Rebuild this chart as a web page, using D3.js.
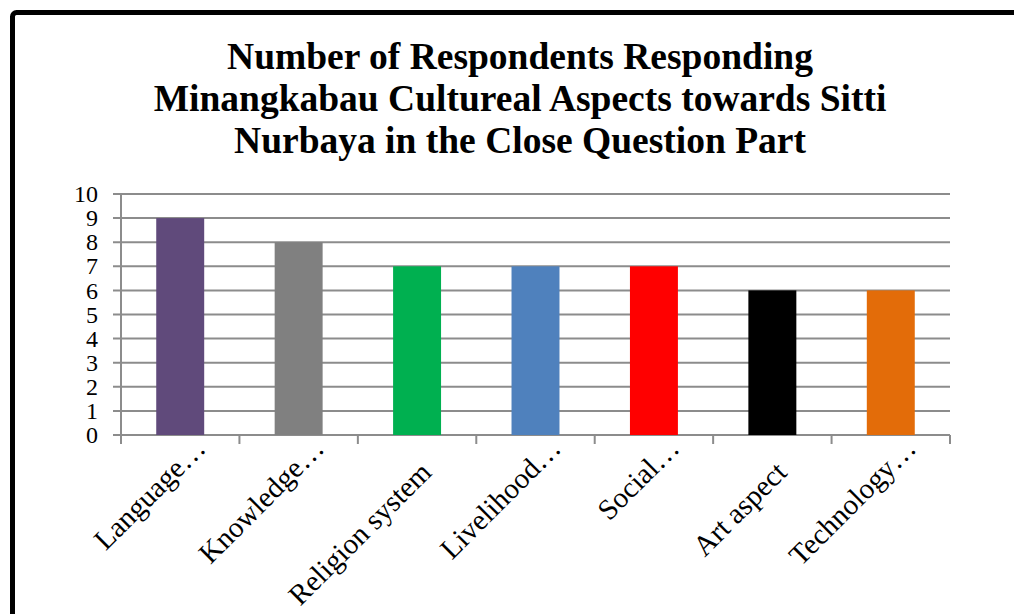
<!DOCTYPE html>
<html>
<head>
<meta charset="utf-8">
<script src="https://cdn.jsdelivr.net/npm/d3@7"></script>
<style>
  html, body { margin: 0; padding: 0; background: #fff; }
  svg { display: block; }
</style>
</head>
<body>
<svg id="chart" width="1014" height="614"></svg>
<script>
// Respondents per Minangkabau cultural aspect
const categories = ["Language…", "Knowledge…", "Religion system", "Livelihood…", "Social…", "Art aspect", "Technology…"];
const values = [9, 8, 7, 7, 7, 6, 6];
const barColors = ["#604A7B", "#808080", "#00B050", "#4F81BD", "#FF0000", "#000000", "#E36C09"];
const yTicks = [0, 1, 2, 3, 4, 5, 6, 7, 8, 9, 10];
const titleLines = [
  "Number of Respondents Responding",
  "Minangkabau Cultureal Aspects towards Sitti",
  "Nurbaya in the Close Question Part"
];

(function () {
  const serif = "'Liberation Serif', 'Times New Roman', Times, serif";
  const svg = d3.select("#chart");

  // outer frame (runs past the right and bottom edges)
  svg.append("rect")
    .attr("x", 12.5).attr("y", 12.5)
    .attr("width", 1100).attr("height", 800)
    .attr("rx", 4)
    .attr("fill", "#fff")
    .attr("stroke", "#000")
    .attr("stroke-width", 5);

  // title
  svg.append("g").selectAll("text")
    .data(titleLines)
    .join("text")
    .attr("x", 520)
    .attr("y", (d, i) => 69 + i * 42)
    .attr("text-anchor", "middle")
    .attr("font-family", serif)
    .attr("font-size", 37.5)
    .attr("font-weight", "bold")
    .attr("fill", "#000")
    .text(d => d);

  const plotLeft = 121, plotRight = 950, plotTop = 194, plotBottom = 435;

  const x = d3.scaleBand().domain(categories).range([plotLeft, plotRight]).padding(0);
  const y = d3.scaleLinear().domain([0, 10]).range([plotBottom, plotTop]);

  const gridColor = "#8C8C8C";

  // horizontal gridlines with left tick marks
  svg.append("g").selectAll("line")
    .data(yTicks)
    .join("line")
    .attr("x1", plotLeft - 8).attr("x2", plotRight)
    .attr("y1", d => y(d)).attr("y2", d => y(d))
    .attr("stroke", gridColor)
    .attr("stroke-width", 2);

  // y axis line
  svg.append("line")
    .attr("x1", plotLeft).attr("x2", plotLeft)
    .attr("y1", plotTop).attr("y2", plotBottom + 9)
    .attr("stroke", gridColor).attr("stroke-width", 2);

  // category boundary ticks below the axis
  const boundaries = categories.map(c => x(c)).concat([plotRight]);
  svg.append("g").selectAll("line")
    .data(boundaries.slice(1))
    .join("line")
    .attr("x1", d => d).attr("x2", d => d)
    .attr("y1", plotBottom).attr("y2", plotBottom + 9)
    .attr("stroke", gridColor).attr("stroke-width", 2);

  // y tick labels
  svg.append("g").selectAll("text")
    .data(yTicks)
    .join("text")
    .attr("x", 98)
    .attr("y", d => y(d))
    .attr("dy", "0.34em")
    .attr("text-anchor", "end")
    .attr("font-family", serif)
    .attr("font-size", 24)
    .attr("fill", "#000")
    .text(d => d);

  // bars
  const barW = x.bandwidth() * 0.405;
  svg.append("g").selectAll("rect")
    .data(values)
    .join("rect")
    .attr("x", (d, i) => x(categories[i]) + (x.bandwidth() - barW) / 2)
    .attr("y", d => y(d))
    .attr("width", barW)
    .attr("height", d => y(0) - y(d))
    .attr("fill", (d, i) => barColors[i]);

  // rotated category labels
  svg.append("g").selectAll("text")
    .data(categories)
    .join("text")
    .attr("transform", d => {
      const cx = x(d) + x.bandwidth() / 2;
      const cut = d.endsWith("…");
      const tx = cx + (cut ? 27 : 16);
      const ty = cut ? 450 : 474;
      return `translate(${tx},${ty}) rotate(-45)`;
    })
    .attr("text-anchor", "end")
    .attr("font-family", serif)
    .attr("font-size", 29)
    .attr("fill", "#000")
    .text(d => d);
})();
</script>
</body>
</html>
